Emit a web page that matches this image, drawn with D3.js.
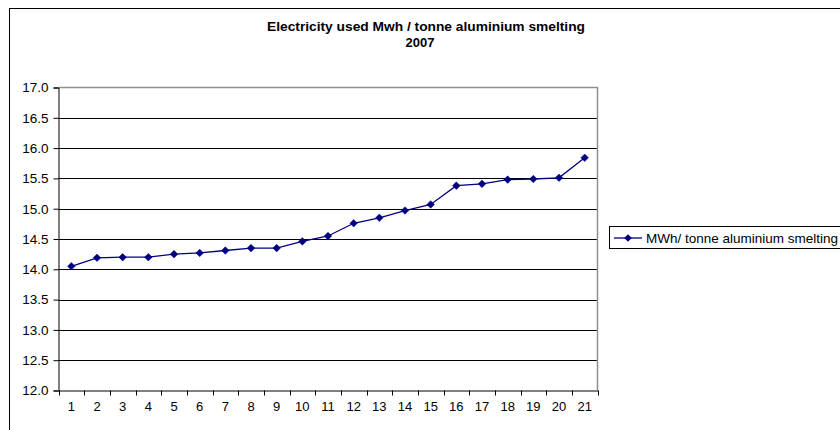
<!DOCTYPE html>
<html>
<head>
<meta charset="utf-8">
<script src="https://cdn.jsdelivr.net/npm/d3@7"></script>
<style>
  body { margin: 0; background: #fff; }
  svg { display: block; }
  text { font-family: Arial, "Liberation Sans", sans-serif; fill: #000; }
</style>
</head>
<body>
<svg id="chart" width="840" height="430"></svg>
<script>
const titleLines = ["Electricity used Mwh / tonne aluminium smelting", "2007"];
const seriesName = "MWh/ tonne aluminium smelting";
const categories = ["1","2","3","4","5","6","7","8","9","10","11","12","13","14","15","16","17","18","19","20","21"];
const values = [14.05, 14.19, 14.20, 14.20, 14.25, 14.27, 14.31, 14.35, 14.35, 14.46, 14.55, 14.76, 14.85, 14.97, 15.07, 15.38, 15.41, 15.48, 15.49, 15.51, 15.84];
const yTicks = [12.0, 12.5, 13.0, 13.5, 14.0, 14.5, 15.0, 15.5, 16.0, 16.5, 17.0];

const svg = d3.select("#chart");
const L = 58.5, R = 597.5, T = 87.5, B = 390.5;
const navy = "#000080";

// outer chart border
svg.append("rect").attr("x", 9.5).attr("y", 8.5).attr("width", 900).attr("height", 500)
  .attr("fill", "none").attr("stroke", "#000").attr("stroke-width", 1);

// title
svg.append("text").attr("x", 426).attr("y", 31).attr("text-anchor", "middle")
  .attr("font-size", 13).attr("font-weight", "bold")
  .attr("textLength", 318).attr("lengthAdjust", "spacingAndGlyphs").text(titleLines[0]);
svg.append("text").attr("x", 420).attr("y", 47).attr("text-anchor", "middle")
  .attr("font-size", 13).attr("font-weight", "bold").text(titleLines[1]);

const x = d3.scaleBand().domain(categories).range([L, R]);
const y = d3.scaleLinear().domain([12, 17]).range([B, T]);

// gridlines
svg.append("g").selectAll("line").data(yTicks.filter(d => d > 12 && d < 17)).join("line")
  .attr("x1", L).attr("x2", R)
  .attr("y1", d => Math.round(y(d)) + 0.5).attr("y2", d => Math.round(y(d)) + 0.5)
  .attr("stroke", "#000").attr("stroke-width", 1);

// plot area border (top/right) gray
svg.append("path")
  .attr("d", `M${L},${T}H${R}V${B}`)
  .attr("fill", "none").attr("stroke", "#909090").attr("stroke-width", 1.5);

// y axis
const yAxis = d3.axisLeft(y).tickValues(yTicks).tickFormat(d3.format(".1f")).tickSizeOuter(0).tickSize(5).tickPadding(5);
const gy = svg.append("g").attr("transform", `translate(${L},0)`).call(yAxis);
gy.select(".domain").attr("stroke", "#000");
gy.selectAll(".tick line").attr("stroke", "#000");
gy.selectAll(".tick text").attr("font-size", 13.5).attr("font-family", "Arial, 'Liberation Sans', sans-serif").attr("fill", "#000");

// x axis
const xAxis = d3.axisBottom(x).tickSize(0).tickPadding(11);
const gx = svg.append("g").attr("transform", `translate(0,${B})`).call(xAxis);
gx.select(".domain").attr("stroke", "#000");
gx.selectAll(".tick text").attr("font-size", 13).attr("font-family", "Arial, 'Liberation Sans', sans-serif").attr("fill", "#000");
// category boundary tick marks
const bounds = categories.map(c => x(c)).concat([R]);
svg.append("g").selectAll("line").data(bounds).join("line")
  .attr("x1", d => Math.round(d) + 0.5).attr("x2", d => Math.round(d) + 0.5)
  .attr("y1", B).attr("y2", B + 5).attr("stroke", "#000");

// line
const cx = c => x(c) + x.bandwidth() / 2;
svg.append("path").datum(values)
  .attr("d", d3.line().x((d, i) => cx(categories[i])).y(d => y(d)))
  .attr("fill", "none").attr("stroke", navy).attr("stroke-width", 1.3);

const diamond = s => `M0,${-s}L${s},0L0,${s}L${-s},0Z`;
svg.append("g").selectAll("path").data(values).join("path")
  .attr("transform", (d, i) => `translate(${cx(categories[i])},${y(d)})`)
  .attr("d", diamond(3.8)).attr("fill", navy).attr("stroke", navy).attr("stroke-width", 0.5);

// legend
const lg = svg.append("g");
lg.append("rect").attr("x", 609.5).attr("y", 226.5).attr("width", 300).attr("height", 22)
  .attr("fill", "#fff").attr("stroke", "#000");
lg.append("line").attr("x1", 614).attr("x2", 642).attr("y1", 238).attr("y2", 238)
  .attr("stroke", navy).attr("stroke-width", 1.3);
lg.append("path").attr("transform", "translate(628,238)").attr("d", diamond(3.8)).attr("fill", navy);
lg.append("text").attr("x", 646).attr("y", 242.5).attr("font-size", 13.5).text(seriesName);
</script>
</body>
</html>
